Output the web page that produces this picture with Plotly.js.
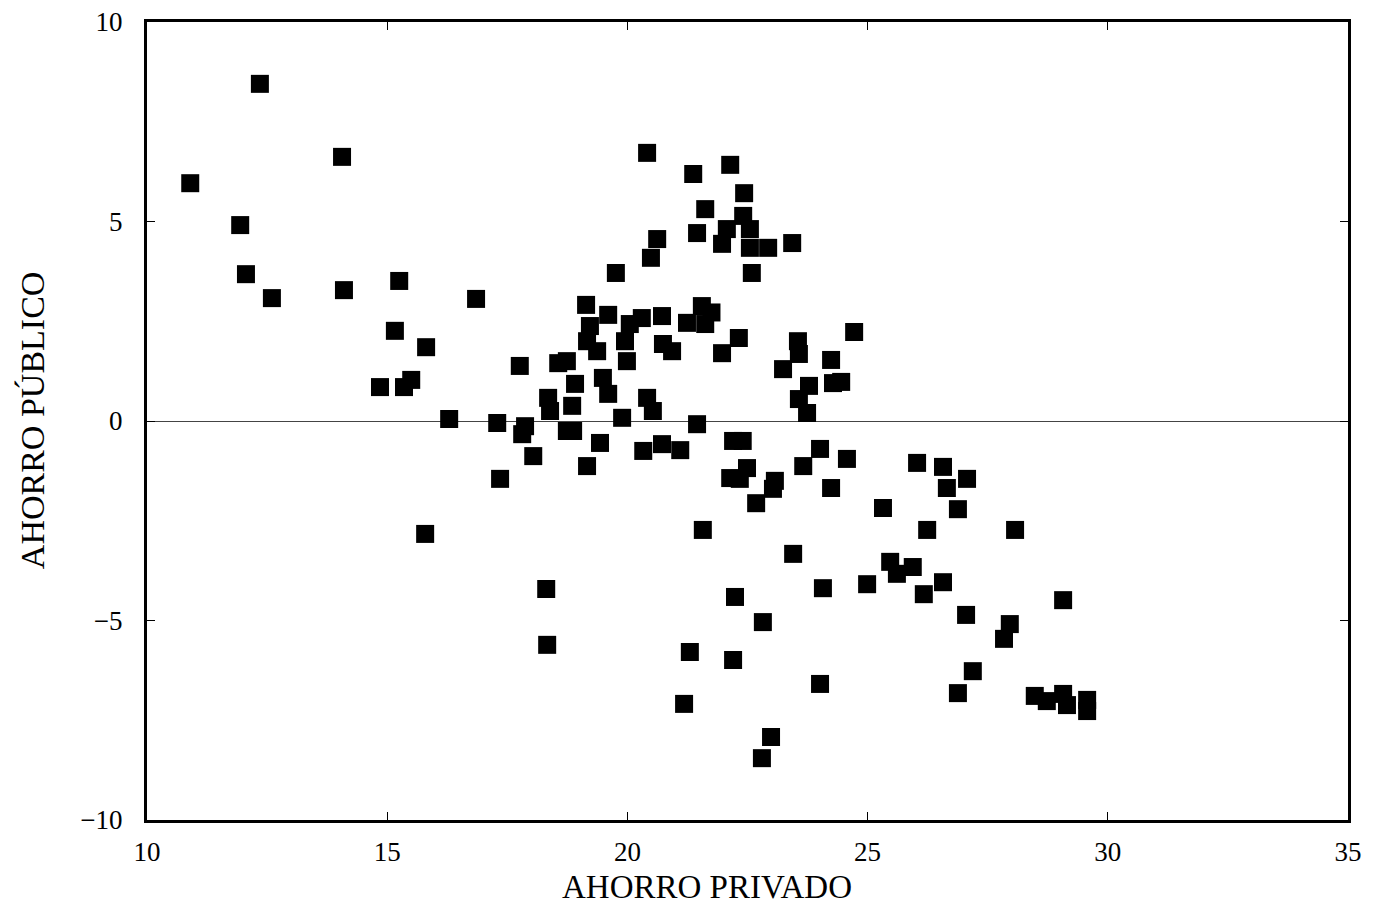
<!DOCTYPE html>
<html>
<head>
<meta charset="utf-8">
<script src="https://cdn.plot.ly/plotly-3.0.1.min.js"></script>
<style>
  html, body { margin: 0; padding: 0; background: #fff; }
  #chart { width: 1379px; height: 909px; }
</style>
</head>
<body>
<div id="chart"></div>
<script>
// Ahorro privado (x) frente a ahorro público (y), % del PIB
const ahorroPrivado = [
  10.90, 12.35, 11.94, 12.06, 12.60, 14.06, 14.10, 15.25, 15.16, 14.85,
  15.35, 15.50, 15.81, 16.85, 16.29, 15.79, 17.29, 17.76, 17.35, 17.87,
  17.81, 18.04, 18.31, 18.33, 18.56, 18.74, 18.91, 18.35, 18.85, 18.39,
  18.74, 18.87, 19.14, 19.60, 19.22, 19.16, 19.37, 19.49, 19.60, 19.43,
  19.16, 19.76, 20.05, 20.30, 20.72, 19.95, 19.99, 19.89, 20.41, 20.53,
  20.33, 20.72, 21.10, 20.74, 20.93, 20.41, 20.62, 20.49, 21.24, 21.55,
  21.75, 21.62, 21.45, 21.37, 22.14, 22.43, 21.62, 22.41, 21.45, 22.07,
  22.55, 21.97, 22.55, 22.93, 23.43, 22.59, 22.32, 21.97, 23.55, 23.57,
  23.24, 24.24, 23.78, 24.28, 24.45, 23.57, 23.74, 24.72, 22.20, 22.40,
  22.14, 22.49, 22.34, 23.07, 23.03, 22.68, 23.66, 24.01, 24.57, 24.24,
  25.32, 21.57, 23.45, 24.07, 24.99, 22.24, 22.82, 21.30, 22.20, 24.01,
  21.18, 22.99, 22.80, 26.03, 26.57, 27.07, 26.65, 26.88, 26.24, 28.07,
  25.47, 25.94, 25.61, 26.57, 26.17, 27.05, 29.07, 27.96, 27.84, 27.19,
  26.88, 28.48, 28.73, 29.07, 29.15, 29.57, 29.57
];
const ahorroPublico = [
   5.96,  8.45,  4.91,  3.68,  3.08,  6.62,  3.28,  3.51,  2.26,  0.85,
   0.85,  1.03,  1.85,  3.06,  0.05, -2.83, -0.05,  1.38, -1.45, -0.13,
  -0.33, -0.88, -4.21, -5.61,  1.45,  1.50,  0.93,  0.58,  0.38,  0.25,
  -0.25, -0.25,  2.91,  2.66,  2.38,  2.00,  1.75,  1.08,  0.68, -0.55,
  -1.13,  3.71,  2.43,  2.58,  2.63,  2.00,  1.50,  0.08,  0.58,  0.25,
  -0.75, -0.58, -0.73,  1.93,  1.75,  6.72,  4.56,  4.09,  2.46,  2.88,
   2.72,  2.43, -0.08,  6.19,  6.42,  5.71,  5.31,  5.14,  4.71,  4.81,
   4.81,  4.44,  4.34,  4.34,  4.46,  3.71,  2.08,  1.70,  2.00,  1.68,
   1.30,  1.53,  0.88,  0.95,  0.98,  0.55,  0.20,  2.23, -0.50, -0.50,
  -1.43, -1.18, -1.45, -1.50, -1.70, -2.06, -1.13, -0.70, -0.95, -1.68,
  -2.18, -2.73, -3.33, -4.19, -4.09, -4.41, -5.04, -5.79, -5.99, -6.59,
  -7.09, -7.92, -8.45, -1.05, -1.15, -1.45, -1.68, -2.21, -2.73, -2.73,
  -3.53, -3.66, -3.83, -4.04, -4.34, -4.86, -4.49, -5.09, -5.46, -6.27,
  -6.82, -6.89, -7.02, -6.84, -7.12, -6.99, -7.27
];
const xTicks = [10, 15, 20, 25, 30, 35];
const yTicks = [-10, -5, 0, 5, 10];
const xTitle = "AHORRO PRIVADO";
const yTitle = "AHORRO PÚBLICO";

const serif = "Liberation Serif";

const trace = {
  type: "scatter",
  mode: "markers",
  x: ahorroPrivado,
  y: ahorroPublico,
  marker: { symbol: "square", size: 18, color: "#000000", line: { width: 0 } },
  hoverinfo: "x+y"
};

const axisCommon = {
  showgrid: false,
  showline: true,
  linecolor: "#000",
  linewidth: 3,
  mirror: "ticks",
  ticks: "inside",
  ticklen: 8,
  tickwidth: 1,
  tickcolor: "#000",
  tickfont: { family: serif, size: 27, color: "#000" }
};

const layout = {
  width: 1379,
  height: 909,
  font: { family: serif, color: "#000" },
  paper_bgcolor: "#fff",
  plot_bgcolor: "#fff",
  showlegend: false,
  margin: { l: 147, r: 31, t: 22, b: 89 },
  xaxis: Object.assign({}, axisCommon, {
    range: [10, 35],
    tickvals: xTicks,
    zeroline: false,
    ticklabelstandoff: 6
  }),
  yaxis: Object.assign({}, axisCommon, {
    range: [-10, 10],
    tickvals: yTicks,
    zeroline: true,
    zerolinecolor: "#444",
    zerolinewidth: 1,
    ticklabelstandoff: 16
  }),
  annotations: [
    {
      text: xTitle, xref: "paper", yref: "paper",
      x: 0.466, y: -0.0835, xanchor: "center", yanchor: "middle",
      showarrow: false, font: { family: serif, size: 33, color: "#000" }
    },
    {
      text: yTitle, xref: "paper", yref: "paper", textangle: -90,
      x: -0.0958, y: 0.501, xanchor: "center", yanchor: "middle",
      showarrow: false, font: { family: serif, size: 34, color: "#000" }
    }
  ]
};

Plotly.newPlot("chart", [trace], layout, { displayModeBar: false, staticPlot: true });
</script>
</body>
</html>
